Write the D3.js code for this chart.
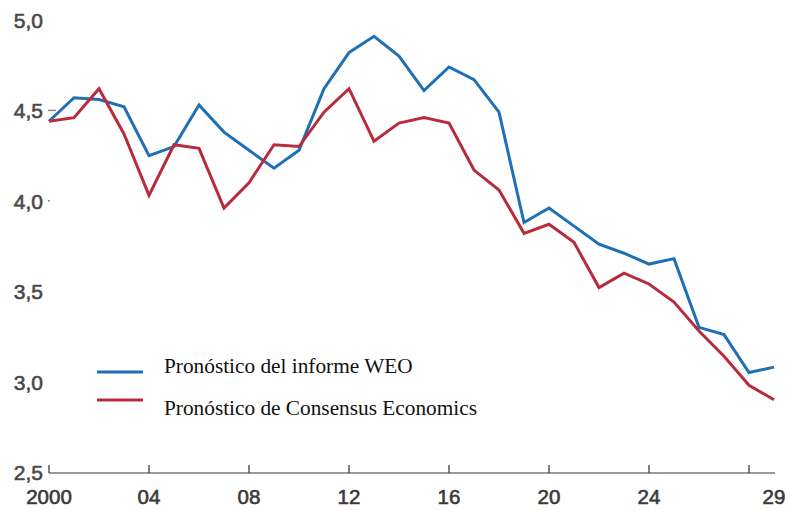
<!DOCTYPE html>
<meta charset="utf-8" />
<script src="https://d3js.org/d3.v7.min.js"></script>
<style>
  body { margin: 0; background: #fff; }
</style>
<div id="chart"></div>
<script>
  // Data
  const years = d3.range(2000, 2030);
  const weo = [4.44, 4.57, 4.56, 4.52, 4.25, 4.30, 4.53, 4.38, 4.28, 4.18,
    4.28, 4.62, 4.82, 4.91, 4.80, 4.61, 4.74, 4.67, 4.49, 3.88,
    3.96, 3.86, 3.76, 3.71, 3.65, 3.68, 3.30, 3.26, 3.05, 3.08];
  const consensus = [4.44, 4.46, 4.62, 4.37, 4.03, 4.31, 4.29, 3.96, 4.10, 4.31,
    4.30, 4.49, 4.62, 4.33, 4.43, 4.46, 4.43, 4.17, 4.06, 3.82,
    3.87, 3.77, 3.52, 3.60, 3.54, 3.44, 3.28, 3.14, 2.98, 2.90];
  const yTicks = [2.5, 3.0, 3.5, 4.0, 4.5, 5.0];
  const xTicks = [2000, 2004, 2008, 2012, 2016, 2020, 2024, 2028];
  const xLabels = [2000, 2004, 2008, 2012, 2016, 2020, 2024, 2029];
  const seriesNames = ["Pronóstico del informe WEO", "Pronóstico de Consensus Economics"];
  const colors = ["#1f6fb5", "#b72c3d"];

  const width = 788, height = 510;

  const svg = d3
    .select("#chart")
    .append("svg")
    .attr("width", width)
    .attr("height", height);

  const x = d3.scaleLinear().domain([2000, 2029]).range([49, 774]);
  const y = d3.scaleLinear().domain([2.5, 5.0]).range([472, 20]);

  const axisFont = "'Liberation Sans Narrow', 'Arial Narrow', 'Liberation Sans', sans-serif";

  // y labels (no axis line)
  svg
    .append("g")
    .selectAll("text")
    .data(yTicks)
    .join("text")
    .attr("x", 43)
    .attr("y", (d) => y(d) + 8)
    .attr("text-anchor", "end")
    .style("font-family", axisFont)
    .style("font-size", "21px")
    .style("fill", "#484848")
    .style("stroke", "#484848")
    .style("stroke-width", 0.6)
    .text((d) => d3.format(".1f")(d).replace(".", ","));

  // small y ticks at 4.5 and 4.0
  svg
    .append("line")
    .attr("x1", 48).attr("x2", 56)
    .attr("y1", y(4.5)).attr("y2", y(4.5))
    .style("stroke", "#888").style("stroke-width", 1.5);
  svg
    .append("line")
    .attr("x1", 48).attr("x2", 50)
    .attr("y1", y(4.0)).attr("y2", y(4.0))
    .style("stroke", "#888").style("stroke-width", 1.5);

  // x axis
  const axisY = 473;
  svg
    .append("line")
    .attr("x1", x(2000))
    .attr("x2", x(2029) + 1)
    .attr("y1", axisY)
    .attr("y2", axisY)
    .style("stroke", "#9a9a9a")
    .style("stroke-width", 2);

  svg
    .append("g")
    .selectAll("line")
    .data(xTicks)
    .join("line")
    .attr("x1", (d) => x(d))
    .attr("x2", (d) => x(d))
    .attr("y1", axisY - 8)
    .attr("y2", axisY)
    .style("stroke", "#555")
    .style("stroke-width", 1.5);

  svg
    .append("g")
    .selectAll("text")
    .data(xLabels)
    .join("text")
    .attr("x", (d) => x(d))
    .attr("y", 504)
    .attr("text-anchor", "middle")
    .style("font-family", axisFont)
    .style("font-size", "20.5px")
    .style("fill", "#3a3a3a")
    .style("stroke", "#3a3a3a")
    .style("stroke-width", 0.6)
    .text((d) => (d === 2000 ? "2000" : String(d % 100).padStart(2, "0")));

  // lines
  const line = d3
    .line()
    .x((d, i) => x(years[i]))
    .y((d) => y(d));

  [weo, consensus].forEach(function (s, i) {
    svg
      .append("path")
      .datum(s)
      .attr("d", line)
      .style("fill", "none")
      .style("stroke", colors[i])
      .style("stroke-width", 3)
      .style("stroke-linejoin", "miter");
  });

  // legend
  const legendLineY = [372, 400];
  const legendTextY = [373, 415];

  svg
    .append("g")
    .selectAll("line")
    .data(seriesNames)
    .join("line")
    .attr("x1", 97)
    .attr("x2", 143)
    .attr("y1", (d, i) => legendLineY[i])
    .attr("y2", (d, i) => legendLineY[i])
    .style("stroke", (d, i) => colors[i])
    .style("stroke-width", 3);

  svg
    .append("g")
    .selectAll("text")
    .data(seriesNames)
    .join("text")
    .attr("x", 164)
    .attr("y", (d, i) => legendTextY[i])
    .style("font-family", "'Liberation Serif', 'Times New Roman', serif")
    .style("font-size", "21.3px")
    .style("fill", "#111")
    .text((d) => d);
</script>
